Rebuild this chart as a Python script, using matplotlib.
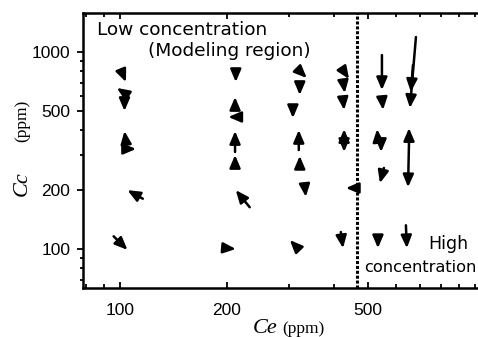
import numpy as np
import matplotlib
matplotlib.use('Agg')
import matplotlib.pyplot as plt
from matplotlib import ticker

# arrow tails and heads, (Ce, Cc) in ppm
tail_ce = [101, 104, 103, 104, 105, 116, 96,
           212, 211, 212, 211, 211, 232, 199,
           321, 321, 307, 319, 321, 332, 315,
           425, 425, 425, 428, 428, 462, 419,
           547, 547, 533, 544, 554, 533,
           682, 669, 652, 652, 639]
tail_cc = [800, 612, 577, 345, 322, 180, 116,
           800, 526, 468, 311, 264, 163, 101,
           800, 696, 514, 318, 264, 204, 102,
           810, 721, 577, 357, 357, 204, 122,
           965, 591, 362, 349, 258, 116,
           1191, 859, 357, 349, 132]
head_ce = [104, 98, 103, 103, 111, 105, 105,
           212, 211, 202, 211, 211, 212, 212,
           336, 321, 307, 319, 321, 334, 301,
           442, 430, 428, 428, 428, 433, 425,
           547, 551, 530, 544, 540, 533,
           656, 660, 652, 648, 643]
head_cc = [704, 657, 502, 397, 322, 199, 99,
           704, 591, 468, 397, 300, 199, 100,
           738, 605, 462, 402, 297, 184, 111,
           729, 619, 508, 406, 311, 204, 101,
           641, 508, 406, 311, 216, 101,
           520, 627, 411, 206, 101]

boundary_ce = 465
x_major = [100, 200, 500]
x_minor = [80, 90, 300, 400, 600, 700, 800, 900, 1000]
y_major = [100, 200, 500, 1000]
y_minor = [70, 80, 90, 300, 400, 600, 700, 800, 900]

W, H = 478, 337
fig = plt.figure(figsize=(W / 100, H / 100), dpi=100)
ax = fig.add_axes([83 / W, 1 - 288 / H, (W - 83) / W, 275 / H])
ax.set_xscale('log')
ax.set_yscale('log')
ax.set_xlim(78.7, 1020)
ax.set_ylim(63.4, 1578)

for tx, ty, hx, hy in zip(tail_ce, tail_cc, head_ce, head_cc):
    ax.annotate('', xy=(hx, hy), xytext=(tx, ty),
                arrowprops=dict(arrowstyle='-|>,head_length=0.75,head_width=0.32',
                                color='black', lw=1.8, shrinkA=0, shrinkB=0,
                                mutation_scale=10))

ax.axvline(boundary_ce, color='black', lw=2.2, ls=(0, (1, 0.6)))

ax.xaxis.set_major_locator(ticker.FixedLocator(x_major))
ax.xaxis.set_minor_locator(ticker.FixedLocator(x_minor))
ax.xaxis.set_major_formatter(ticker.FixedFormatter([str(v) for v in x_major]))
ax.xaxis.set_minor_formatter(ticker.NullFormatter())
ax.yaxis.set_major_locator(ticker.FixedLocator(y_major))
ax.yaxis.set_minor_locator(ticker.FixedLocator(y_minor))
ax.yaxis.set_major_formatter(ticker.FixedFormatter([str(v) for v in y_major]))
ax.yaxis.set_minor_formatter(ticker.NullFormatter())

ax.tick_params(axis='x', which='both', direction='in', top=True, width=1.3)
ax.tick_params(axis='x', which='major', length=4, pad=11)
ax.tick_params(axis='x', which='minor', length=3)
ax.tick_params(axis='y', which='both', direction='out', width=1.3)
ax.tick_params(axis='y', which='major', length=4, pad=5)
ax.tick_params(axis='y', which='minor', length=2)
for lab in ax.get_xticklabels() + ax.get_yticklabels():
    lab.set_fontfamily('Liberation Sans')
    lab.set_fontsize(12.5)

ax.spines['right'].set_visible(False)
for s in ['left', 'bottom', 'top']:
    ax.spines[s].set_linewidth(1.8)

txt = dict(family='DejaVu Sans', transform=ax.transAxes, va='center', ha='left')
ax.text((97 - 83) / 395, (288 - 30) / 275, 'Low concentration', fontsize=13.3, **txt)
ax.text((148 - 83) / 395, (288 - 51) / 275, '(Modeling region)', fontsize=13.3, **txt)
ax.text((428 - 83) / 395, (288 - 244) / 275, 'High', fontsize=12.5, **txt)
ax.text((364 - 83) / 395, (288 - 268) / 275, 'concentration', fontsize=11.7, **txt)

fig.text(253 / W, 1 - 333 / H, 'Ce', family='Liberation Serif', style='italic',
         fontsize=16, ha='left', va='baseline')
fig.text(282 / W, 1 - 333 / H, '(ppm)', family='Liberation Serif',
         fontsize=12.5, ha='left', va='baseline')
fig.text(22 / W, 1 - 184 / H, 'Cc', family='Liberation Serif', style='italic',
         fontsize=16, rotation=90, ha='center', va='center')
fig.text(22 / W, 1 - 121 / H, '(ppm)', family='Liberation Serif',
         fontsize=12.5, rotation=90, ha='center', va='center')

fig.savefig('out.png', dpi=100)
